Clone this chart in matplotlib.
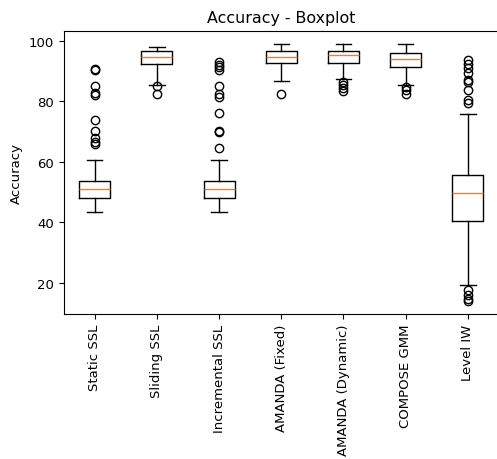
import matplotlib
matplotlib.use("Agg")
import matplotlib.pyplot as plt

labels = ["Static SSL", "Sliding SSL", "Incremental SSL", "AMANDA (Fixed)",
          "AMANDA (Dynamic)", "COMPOSE GMM", "Level IW"]

whislo = [43.4, 85.3, 43.4, 86.7, 87.4, 85.3, 19.4]
q1 = [48.0, 92.4, 48.0, 92.7, 92.7, 91.4, 40.3]
med = [51.1, 94.8, 51.1, 94.8, 95.4, 93.9, 49.8]
q3 = [53.8, 96.6, 53.8, 96.5, 96.5, 96.1, 55.5]
whishi = [60.7, 97.9, 60.7, 99.1, 99.1, 99.1, 75.7]

fliers = [
    [90.8, 90.3, 85.0, 82.8, 82.2, 74.0, 70.3, 67.8, 66.5, 66.0],
    [85.0, 82.4],
    [92.9, 92.0, 91.3, 90.5, 85.0, 82.3, 81.5, 76.3, 70.2, 69.8, 64.6],
    [82.4],
    [86.3, 85.5, 84.5, 83.5],
    [84.8, 83.6, 82.4],
    [93.7, 92.3, 90.9, 89.5, 87.0, 86.5, 83.7, 80.4, 79.6,
     17.6, 16.1, 14.7, 13.9],
]

stats = []
for i in range(len(labels)):
    stats.append({"label": labels[i], "whislo": whislo[i], "q1": q1[i],
                  "med": med[i], "q3": q3[i], "whishi": whishi[i],
                  "fliers": fliers[i]})

fig = plt.figure(figsize=(4.97, 4.60), dpi=100)
ax = fig.add_axes([0.128, 0.315, 0.876, 0.616])
ax.bxp(stats)
ax.set_title("Accuracy - Boxplot", fontsize=11.4)
ax.set_ylabel("Accuracy", fontsize=9.5)
ax.set_xticks(range(1, len(labels) + 1))
ax.set_xticklabels(labels, rotation=90, fontsize=9.5)
ax.tick_params(axis="y", labelsize=9.5)
fig.savefig("out.png", dpi=100)
